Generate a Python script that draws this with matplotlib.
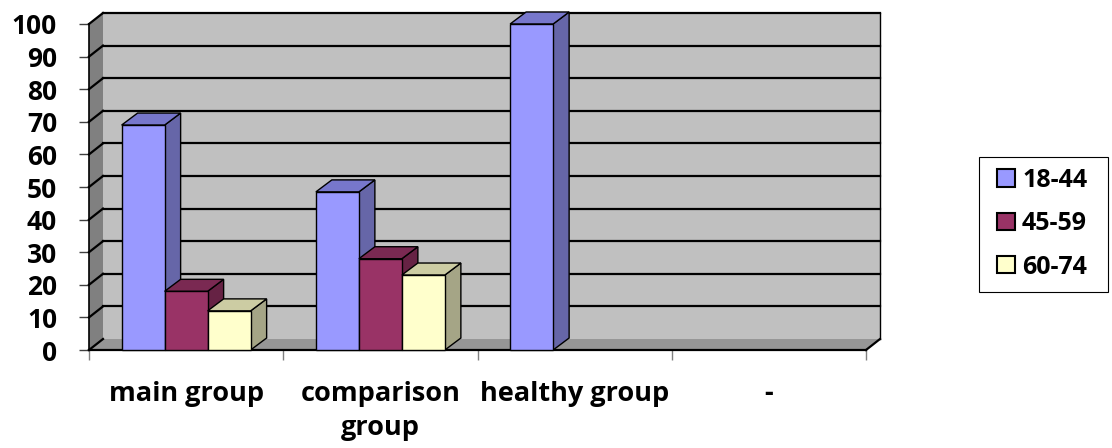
import matplotlib
matplotlib.use("Agg")
import matplotlib.pyplot as plt
from matplotlib.patches import Polygon, Patch, Rectangle

# ---- data ----
categories = ["main group", "comparison\ngroup", "healthy group", "-"]
series_names = ["18-44", "45-59", "60-74"]
s_18_44 = [69, 48.5, 100, 0]
s_45_59 = [18, 28, 0, 0]
s_60_74 = [12, 23, 0, 0]
yticks = [0, 10, 20, 30, 40, 50, 60, 70, 80, 90, 100]

series = [s_18_44, s_45_59, s_60_74]
face_cols = ["#9999FF", "#993366", "#FFFFCC"]
top_cols = ["#7777CC", "#7A2952", "#CCCCA3"]
side_cols = ["#6666A8", "#662244", "#A5A586"]

FONT = "Open Sans"
W, H = 1112, 448
fig = plt.figure(figsize=(W / 100, H / 100), dpi=100)
x0, x1, y0, y1 = 89, 866, 350, 24
ax = fig.add_axes([x0 / W, 1 - y0 / H, (x1 - x0) / W, (y0 - y1) / H])
ncat = len(categories)
ax.set_xlim(0, ncat)
ax.set_ylim(0, 100)
for s in ax.spines.values():
    s.set_visible(False)
ax.patch.set_visible(False)

xs = (x1 - x0) / ncat      # px per category
ys = (y0 - y1) / 100.0     # px per unit
wdx, wdy = 14 / xs, 11 / ys    # wall depth
bdx, bdy = 16 / xs, 12 / ys    # bar depth

K = dict(clip_on=False)
# walls
ax.add_patch(Polygon([(wdx, wdy), (ncat + wdx, wdy), (ncat + wdx, 100 + wdy), (wdx, 100 + wdy)],
                     closed=True, fc="#C0C0C0", ec="none", zorder=1, **K))
ax.add_patch(Polygon([(0, 0), (wdx, wdy), (wdx, 100 + wdy), (0, 100)],
                     closed=True, fc="#808080", ec="none", zorder=1, **K))
ax.add_patch(Polygon([(0, 0), (ncat, 0), (ncat + wdx, wdy), (wdx, wdy)],
                     closed=True, fc="#969696", ec="none", zorder=1, **K))
# gridlines
for v in yticks:
    if v > 0:
        ax.plot([wdx, ncat + wdx], [v + wdy, v + wdy], color="black", lw=1.6, zorder=2, **K)
    ax.plot([0, wdx], [v, v + wdy], color="black", lw=1.6, zorder=2, **K)
ax.plot([ncat + wdx, ncat + wdx], [wdy, 100 + wdy], color="black", lw=1.0, zorder=2, **K)
# axis lines
ax.plot([0, 0], [0, 100], color="black", lw=1.2, zorder=3, **K)
ax.plot([0, ncat], [0, 0], color="black", lw=1.6, zorder=3, **K)
ax.plot([ncat, ncat + wdx], [0, wdy], color="black", lw=1.6, zorder=3, **K)

# bars
bw = 43 / xs
off = (1 - 3 * bw) / 2
z = 4
for ci in range(ncat):
    for si, vals in enumerate(series):
        v = vals[ci]
        if v <= 0:
            continue
        left = ci + off + si * bw
        ax.bar(left, v, width=bw, align="edge", color=face_cols[si], edgecolor="black",
               linewidth=1.0, zorder=z + 1, clip_on=False)
        ax.add_patch(Polygon([(left + bw, 0), (left + bw + bdx, bdy), (left + bw + bdx, v + bdy), (left + bw, v)],
                             closed=True, fc=side_cols[si], ec="black", lw=1.0, zorder=z, **K))
        ax.add_patch(Polygon([(left, v), (left + bw, v), (left + bw + bdx, v + bdy), (left + bdx, v + bdy)],
                             closed=True, fc=top_cols[si], ec="black", lw=1.0, zorder=z, **K))
        z += 2

# ticks
ax.set_yticks(yticks)
ax.set_yticklabels([str(t) for t in yticks], fontfamily=FONT, fontweight="bold", fontsize=19)
ax.tick_params(axis="y", length=7, width=1, color="#404040", pad=16)
ax.set_xticks(range(ncat + 1))
ax.set_xticklabels([])
ax.tick_params(axis="x", which="major", length=7, width=1, color="#808080")
ax.set_xticks([i + 0.5 for i in range(ncat)], minor=True)
ax.set_xticklabels(categories, minor=True, fontfamily=FONT, fontweight="bold", fontsize=19.5,
                   linespacing=1.4, va="top")
ax.tick_params(axis="x", which="minor", length=0, pad=22)

# legend frame drawn separately for independent padding
fig.patches.append(Rectangle((979 / W, 1 - 292 / H), (1108 - 979) / W, (292 - 157) / H,
                             transform=fig.transFigure, fc="white", ec="black", lw=0.8, zorder=0))
handles = [Patch(fc=c, ec="black", lw=1.5) for c in face_cols]
leg = fig.legend(handles, series_names, loc="upper left", bbox_to_anchor=(997 / W, 1 - 168 / H),
                 frameon=False,
                 prop=dict(family=FONT, weight="bold", size=18), handlelength=0.7, handleheight=0.7,
                 handletextpad=0.3, labelspacing=0.73, borderpad=0, borderaxespad=0)

fig.savefig("out.png", dpi=100)
